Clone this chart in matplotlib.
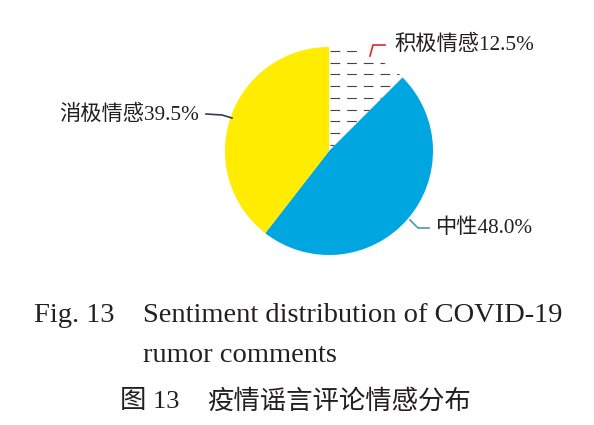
import numpy as np
import matplotlib
matplotlib.use("Agg")
import matplotlib.pyplot as plt

plt.rcParams['lines.scale_dashes'] = False

# data
labels = ["积极情感", "中性", "消极情感"]
shares = [12.5, 48.0, 39.5]
colors = ["white", "#00A6E0", "#FFEC00"]

W, H = 594, 425
fig = plt.figure(figsize=(W / 100, H / 100), dpi=100)
ax = fig.add_axes([0, 0, 1, 1])
ax.set_xlim(0, W)
ax.set_ylim(0, H)


def Y(py):
    # pixel row -> data y
    return H - py


cx, cy, r = 329, 151, 104
wedges, _ = ax.pie(shares, colors=colors, startangle=90, counterclock=False,
                   center=(cx, Y(cy)), radius=r, frame=True,
                   wedgeprops=dict(linewidth=0))
ax.set_xlim(0, W)
ax.set_ylim(0, H)
ax.set_aspect('auto')
ax.axis('off')

# dashed fill of the positive wedge
for row in np.arange(cy - r + 4, cy, 11.7):
    ln, = ax.plot([cx + 1, cx + r], [Y(row), Y(row)], color="#444444", lw=0.8,
                  linestyle=(0, (7, 5)))
    ln.set_clip_path(wedges[0])

txt = "#231F20"
cjk = ['Liberation Serif', 'Noto Sans CJK SC']

# leader lines and labels
ax.plot([370, 373, 385], [Y(56), Y(45), Y(45)], color="#E0262B", lw=1.2)
ax.text(394, Y(45), f"{labels[0]}{shares[0]:.1f}%", fontsize=15.3,
        family=cjk, color=txt, va='center', ha='left')

ax.plot([410, 418, 429], [Y(220), Y(228), Y(228)], color="#4F94B5", lw=1.2)
ax.text(436, Y(228), f"{labels[1]}{shares[1]:.1f}%", fontsize=15.3,
        family=cjk, color=txt, va='center', ha='left')

ax.plot([206, 222, 232], [Y(114), Y(115), Y(118)], color="#2F3D4F", lw=1.2)
ax.text(199, Y(115), f"{labels[2]}{shares[2]:.1f}%", fontsize=15.3,
        family=cjk, color=txt, va='center', ha='right')

# caption
cap = dict(color=txt, va='center', ha='left', fontsize=20.5)
ax.text(34, Y(316), "Fig. 13", family='Liberation Serif', **cap)
ax.text(143, Y(316), "Sentiment distribution of COVID-19", family='Liberation Serif', **cap)
ax.text(143, Y(356), "rumor comments", family='Liberation Serif', **cap)
cap['fontsize'] = 19
ax.text(120, Y(401), "图 13", family=cjk, **cap)
ax.text(207, Y(401), "疫情谣言评论情感分布", family=cjk, **cap)

fig.savefig("out.png", dpi=100)
